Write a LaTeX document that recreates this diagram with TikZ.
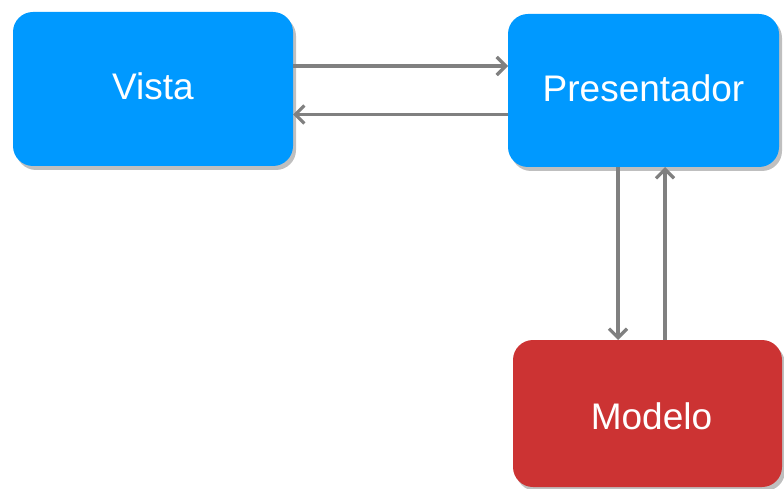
\documentclass[tikz,border=0pt]{standalone}
\usepackage{fontspec}
\setmainfont{Liberation Sans}
\usetikzlibrary{arrows.meta,shadows}
\definecolor{vblue}{RGB}{0,153,255}
\definecolor{mred}{RGB}{204,51,51}
\definecolor{agray}{RGB}{128,128,128}
\begin{document}
\begin{tikzpicture}[x=1pt,y=-1pt,
  box/.style={rectangle, rounded corners=20pt, inner sep=0pt, outer sep=0pt,
    text=white, font=\fontsize{37}{44}\selectfont,
    drop shadow={shadow xshift=3pt, shadow yshift=-4pt, fill=black, opacity=0.25}},
  arr/.style={draw=agray, line width=3.2pt,
    -{Straight Barb[length=9pt,width=18pt,line width=3.2pt]}}]
\useasboundingbox (0,0) rectangle (784,489);
\clip (0,0) rectangle (784,489);
\node[box, fill=vblue, minimum width=280pt, minimum height=154pt] (vista) at (153,89) {\raisebox{3pt}[\height][\depth]{Vista}};
\node[box, fill=vblue, minimum width=271pt, minimum height=153pt] (presentador) at (643.5,90.5) {\raisebox{2pt}[\height][\depth]{Presentador}};
\node[box, fill=mred, minimum width=269pt, minimum height=147pt] (modelo) at (647.5,413.5) {\hspace*{8pt}\raisebox{-3pt}[\height][\depth]{Modelo}};
\coordinate (a1s) at ([yshift=23pt]vista.east);
\draw[arr] (a1s) -- (a1s -| presentador.west);
\coordinate (a2s) at ([yshift=-24pt]presentador.west);
\draw[arr] (a2s) -- (a2s -| vista.east);
\coordinate (a3s) at ([xshift=-25.5pt]presentador.south);
\draw[arr] (a3s) -- (a3s |- modelo.north);
\coordinate (a4s) at ([xshift=17.5pt]modelo.north);
\draw[arr] (a4s) -- (a4s |- presentador.south);
\end{tikzpicture}
\end{document}
